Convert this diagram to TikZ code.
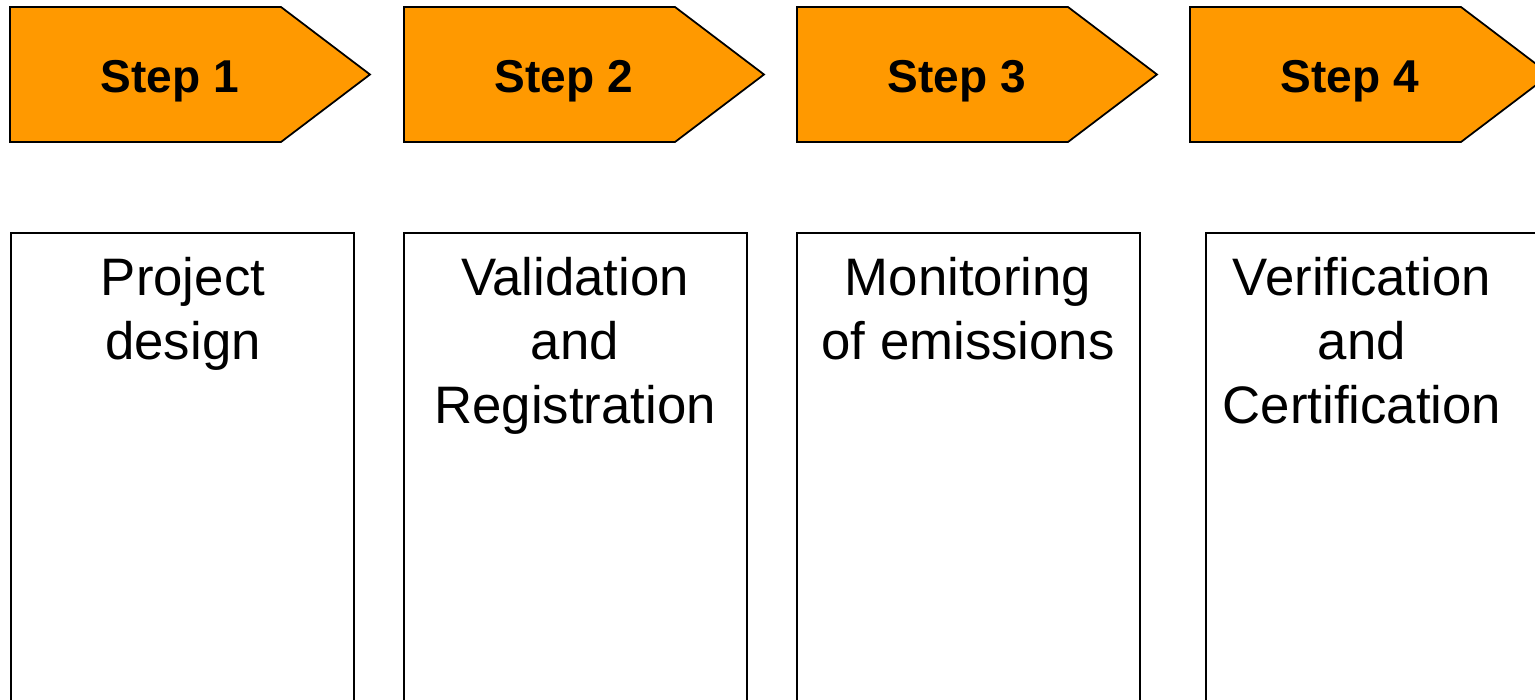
\documentclass[tikz,border=0pt]{standalone}
\usepackage{fontspec}
\setmainfont{Liberation Sans}
\definecolor{steporange}{HTML}{FF9900}
\tikzset{
  steparrow/.style={draw=black,line width=0.5pt,fill=steporange},
  steplabel/.style={font=\bfseries\fontsize{13.1}{15}\selectfont,inner sep=0pt},
  phasebox/.style={draw=black,line width=0.5pt,fill=white},
  phasetext/.style={font=\fontsize{15}{18.2}\selectfont,align=center,inner sep=0pt,anchor=north}
}
\begin{document}
\begin{tikzpicture}[x=0.01cm,y=-0.01cm]
\useasboundingbox (0,0) rectangle (1535,700);
\clip (0,0) rectangle (1535,700);
%\draw[step=50,gray,very thin] (0,0) grid (1535,700);

% arrows along the top
\foreach \n/\l in {1/10,2/404,3/797,4/1190}{
  \draw[steparrow] (\l,7) -- (\l+271,7) -- (\l+360,74.5) -- (\l+271,142) -- (\l,142) -- cycle;
  \node[steplabel] (step\n) at (\l+160,81) {Step \n};
}

%------------------------------------------------

% boxes below
\draw[phasebox] (11,233) rectangle (354,760);
\draw[phasebox] (404,233) rectangle (747,760);
\draw[phasebox] (797,233) rectangle (1140,760);
\draw[phasebox] (1206,233) rectangle (1549,760);
\node[phasetext] (phase1) at (183,257) {Project\\design};
\node[phasetext] (phase2) at (575,257) {Validation\\and\\Registration};
\node[phasetext] (phase3) at (968,257) {Monitoring\\of emissions};
\node[phasetext] (phase4) at (1362,257) {Verification\\and\\Certification};
\end{tikzpicture}
\end{document}
